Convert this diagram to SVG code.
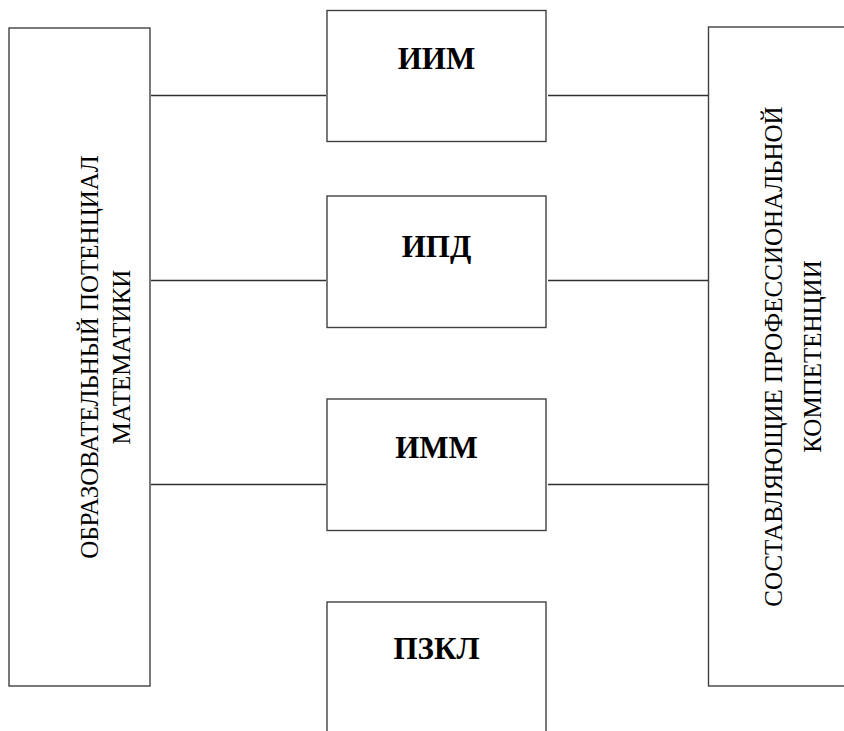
<svg xmlns="http://www.w3.org/2000/svg" width="844" height="731" viewBox="0 0 844 731">
<style>
.box{fill:#fff;stroke:#404040;stroke-width:1.4}
.ln{stroke:#303030;stroke-width:1.4;fill:none}
.lbl{font-family:"Liberation Serif",serif;font-weight:bold;font-size:31px;fill:#000;text-anchor:middle}
.vt{font-family:"Liberation Serif",serif;font-size:25px;fill:#000;text-anchor:middle}
</style>
<rect width="844" height="731" fill="#fff"/>
<g id="connectors">
<line class="ln" x1="151" y1="95.5" x2="326" y2="95.5"/>
<line class="ln" x1="548" y1="95.5" x2="708" y2="95.5"/>
<line class="ln" x1="151" y1="280.5" x2="326" y2="280.5"/>
<line class="ln" x1="548" y1="280.5" x2="708" y2="280.5"/>
<line class="ln" x1="151" y1="484.5" x2="326" y2="484.5"/>
<line class="ln" x1="548" y1="484.5" x2="708" y2="484.5"/>
</g>
<g id="left">
<rect class="box" x="9" y="28" width="141" height="658"/>
<text class="vt" transform="translate(98,357) rotate(-90)">ОБРАЗОВАТЕЛЬНЫЙ ПОТЕНЦИАЛ</text>
<text class="vt" transform="translate(130,357) rotate(-90)">МАТЕМАТИКИ</text>
</g>
<g id="iim">
<rect class="box" x="327" y="10.5" width="219" height="131"/>
<text class="lbl" x="436.5" y="69">ИИМ</text>
</g>
<g id="ipd">
<rect class="box" x="327" y="196" width="219" height="131.5"/>
<text class="lbl" x="436.5" y="257">ИПД</text>
</g>
<g id="imm">
<rect class="box" x="327" y="399" width="219" height="131.5"/>
<text class="lbl" x="436.5" y="458">ИММ</text>
</g>
<g id="pzkl">
<rect class="box" x="327" y="602" width="219" height="140"/>
<text class="lbl" x="436.5" y="659">ПЗКЛ</text>
</g>
<g id="right">
<rect class="box" x="708.5" y="27" width="150" height="659"/>
<text class="vt" transform="translate(782,356.5) rotate(-90)">СОСТАВЛЯЮЩИЕ ПРОФЕССИОНАЛЬНОЙ</text>
<text class="vt" transform="translate(821,356.5) rotate(-90)">КОМПЕТЕНЦИИ</text>
</g>
</svg>
